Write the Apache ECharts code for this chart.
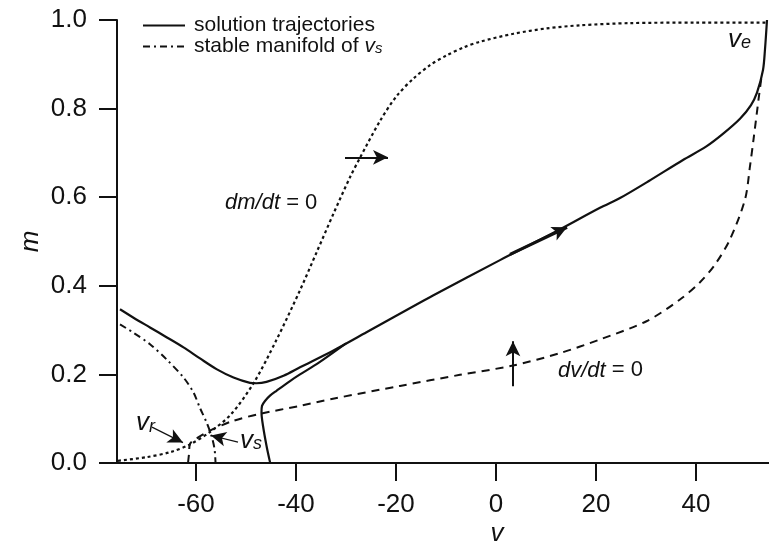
<!DOCTYPE html>
<html><head><meta charset="utf-8">
<script src="https://cdn.jsdelivr.net/npm/echarts@6/dist/echarts.min.js"></script>
<style>html,body{margin:0;padding:0;background:#fff}#c{width:769px;height:552px}</style>
</head><body><div id="c"></div>
<script>
// ---- tick labels ----
const xTicks = [-60, -40, -20, 0, 20, 40];
const yTicks = [0, 0.2, 0.4, 0.6, 0.8, 1.0];

// ---- dm/dt = 0 nullcline (dotted) ----
const mNullV = [-75.6,-70,-65,-61.2,-57.2,-53,-48.5,-43.9,-39.2,-35.9,-32.5,-29.2,-27.2,-23.2,-19.9,-16.5,-13.2,-9.9,-6.5,-3.2,3.5,10.1,16.8,26.8,40,54.0];
const mNullM = [0.005,0.013,0.025,0.042,0.070,0.110,0.180,0.278,0.390,0.475,0.563,0.645,0.689,0.772,0.828,0.868,0.898,0.920,0.938,0.951,0.969,0.981,0.988,0.993,0.994,0.994];

// ---- dv/dt = 0 nullcline (dashed) ----
const vNullV = [-61.6,-61.4,-61.2,-59.8,-57.2,-52.6,-47.2,-39.2,-32.6,-19.2,-7.2,3.4,12.8,20.8,30.1,36.8,40.8,43.8,46.8,49.8,50.8,51.5,52.5,53.1];
const vNullM = [0.0,0.020,0.043,0.056,0.073,0.095,0.111,0.129,0.145,0.174,0.199,0.220,0.248,0.279,0.320,0.369,0.408,0.448,0.505,0.595,0.670,0.730,0.820,0.872];

// ---- solution trajectory 1 (solid) ----
const traj1V = [-75.2,-72.5,-69.2,-65.9,-62.5,-59.2,-55.9,-52.5,-49.2,-47.9,-45.9,-42.5,-39.2,-32.5,-25.9,-12.6,0.8,11.4,20.8,24.8,30.5,37.4,42,45.5,48.8,51,52.2,53.4,53.8,54.2];
const traj1M = [0.347,0.328,0.306,0.284,0.261,0.236,0.212,0.193,0.181,0.180,0.183,0.197,0.216,0.254,0.295,0.378,0.458,0.519,0.576,0.598,0.636,0.684,0.714,0.744,0.777,0.808,0.836,0.887,0.934,1.0];

// ---- solution trajectory 2 (solid) ----
const traj2V = [-45.2,-45.9,-46.6,-46.9,-46.8,-46.2,-45.2,-43.9,-41.2,-39.2,-35.5,-30.0];
const traj2M = [0.002,0.039,0.084,0.114,0.129,0.140,0.152,0.163,0.185,0.200,0.226,0.270];

// ---- stable manifold of v_s (dash-dot) ----
const smV = [-75.2,-72.5,-69.2,-65.9,-62.5,-60.5,-59.2,-57.9,-56.9,-56.3,-56.1];
const smM = [0.313,0.294,0.268,0.234,0.193,0.159,0.124,0.092,0.061,0.032,0.002];

// ---- arrows: [v1, m1, v2, m2] ----
const arrowH = [-30.2, 0.69, -21.6, 0.69];
const arrowV = [3.4, 0.173, 3.4, 0.275];
const arrowT = [2.8, 0.471, 14.2, 0.532];
const arrowVr = [-68.8, 0.081, -62.6, 0.046];
const arrowVs = [-51.6, 0.047, -57.0, 0.062];

// ---- annotation anchors [v, m] ----
const posVr = [-72.0, 0.090];
const posVs = [-51.2, 0.051];
const posVe = [46.4, 0.956];
const posDm = [-54.2, 0.588];
const posDv = [12.4, 0.209];

const FONT = "'Liberation Sans', Arial, Helvetica, sans-serif";
const INK = '#111';
const pairs = (a, b) => a.map((v, i) => [v, b[i]]);
const ml = (a, w) => [{coord: [a[0], a[1]], lineStyle: {width: w || 2, color: INK, type: 'solid'}}, {coord: [a[2], a[3]]}];

const chart = echarts.init(document.getElementById('c'), null, {renderer: 'canvas'});

const option = {
  animation: false,
  backgroundColor: '#fff',
  color: [INK, INK, INK, INK, INK],
  grid: {left: 117, right: 0, top: 20, bottom: 88},
  legend: {
    left: 137, top: 10, orient: 'vertical', itemGap: 0,
    itemWidth: 42, itemHeight: 14,
    data: ['solution trajectories', 'stable manifold of vs'],
    selectedMode: false,
    itemStyle: {opacity: 0, borderWidth: 0},
    formatter: n => n === 'stable manifold of vs' ? '{t|stable manifold of }{i|v}{s|s}' : '{t|' + n + '}',
    textStyle: {
      fontFamily: FONT, fontSize: 21, color: INK, padding: [0, 0, 0, 4],
      rich: {
        t: {fontFamily: FONT, fontSize: 21, lineHeight: 20, color: INK},
        i: {fontFamily: FONT, fontSize: 21, fontStyle: 'italic', lineHeight: 20, color: INK},
        s: {fontFamily: FONT, fontSize: 15, fontStyle: 'italic', lineHeight: 4, verticalAlign: 'bottom', color: INK}
      }
    }
  },
  xAxis: {
    type: 'value', min: -75.8, max: 54.6,
    name: 'v', nameLocation: 'middle', nameGap: 58, nameMoveOverlap: false,
    nameTextStyle: {fontFamily: FONT, fontSize: 26, fontStyle: 'italic', color: INK, padding: [0, 0, 0, 108]},
    axisLine: {show: true, onZero: false, lineStyle: {color: INK, width: 2}},
    axisTick: {show: true, length: 18, lineStyle: {color: INK, width: 2}, customValues: xTicks},
    axisLabel: {color: INK, fontFamily: FONT, fontSize: 26, margin: 29, customValues: xTicks, formatter: v => String(v)},
    splitLine: {show: false}
  },
  yAxis: {
    type: 'value', min: 0, max: 1,
    name: 'm', nameLocation: 'middle', nameGap: 73, nameMoveOverlap: false,
    nameTextStyle: {fontFamily: FONT, fontSize: 26, fontStyle: 'italic', color: INK},
    axisLine: {show: true, onZero: false, lineStyle: {color: INK, width: 2}},
    axisTick: {show: true, length: 18, lineStyle: {color: INK, width: 2}, customValues: yTicks},
    axisLabel: {color: INK, fontFamily: FONT, fontSize: 26, margin: 30, customValues: yTicks, formatter: v => v.toFixed(1)},
    splitLine: {show: false}
  },
  series: [
    {name: 'dm/dt = 0', type: 'line', data: pairs(mNullV, mNullM), symbol: 'none', smooth: 0.3,
     itemStyle: {color: INK}, lineStyle: {color: INK, width: 2.2, type: [3, 3]}, silent: true, z: 2},
    {name: 'dv/dt = 0', type: 'line', data: pairs(vNullV, vNullM), symbol: 'none', smooth: 0.3,
     itemStyle: {color: INK}, lineStyle: {color: INK, width: 2, type: [8, 6]}, silent: true, z: 2},
    {name: 'stable manifold of vs', type: 'line', data: pairs(smV, smM), symbol: 'none', smooth: 0.3,
     itemStyle: {color: INK}, lineStyle: {color: INK, width: 2, type: [7, 4, 2, 4]}, silent: true, z: 3},
    {name: 'solution trajectories', type: 'line', data: pairs(traj2V, traj2M), symbol: 'none', smooth: 0.3,
     itemStyle: {color: INK}, lineStyle: {color: INK, width: 2.2, type: 'solid'}, silent: true, z: 4},
    {name: 'solution trajectories', type: 'line', data: pairs(traj1V, traj1M), symbol: 'none', smooth: 0.3,
     itemStyle: {color: INK}, lineStyle: {color: INK, width: 2.2, type: 'solid'}, silent: true, z: 4,
     markLine: {
       silent: true, animation: false,
       symbol: ['none', 'arrow'], symbolSize: [11, 15],
       label: {show: false},
       emphasis: {disabled: true},
       lineStyle: {color: INK, width: 2, type: 'solid'},
       data: [ml(arrowH), ml(arrowV), ml(arrowT, 3.2), ml(arrowVr, 1.2), ml(arrowVs, 1.2)]
     }}
  ]
};
chart.setOption(option);

function px(p) { return chart.convertToPixel({gridIndex: 0}, p); }
const subRich = {
  v: {fontFamily: FONT, fontSize: 26, fontStyle: 'italic', lineHeight: 26, fill: INK},
  s: {fontFamily: FONT, fontSize: 18, fontStyle: 'italic', lineHeight: 6, verticalAlign: 'bottom', fill: INK}
};
const eqRich = {
  i: {fontFamily: FONT, fontSize: 22, fontStyle: 'italic', fill: INK},
  n: {fontFamily: FONT, fontSize: 22, fill: INK}
};
function sub(pos, letter) {
  const p = px(pos);
  return {type: 'text', x: p[0], y: p[1], silent: true,
    style: {text: '{v|v}{s|' + letter + '}', rich: subRich, verticalAlign: 'middle', align: 'left'}};
}
function eq(pos, t) {
  const p = px(pos);
  return {type: 'text', x: p[0], y: p[1], silent: true,
    style: {text: '{i|' + t + '}{n| = 0}', rich: eqRich, verticalAlign: 'middle', align: 'left'}};
}
chart.setOption({graphic: [
  sub(posVr, 'r'), sub(posVs, 's'), sub(posVe, 'e'),
  eq(posDm, 'dm/dt'), eq(posDv, 'dv/dt')
]});
</script>
</body></html>
